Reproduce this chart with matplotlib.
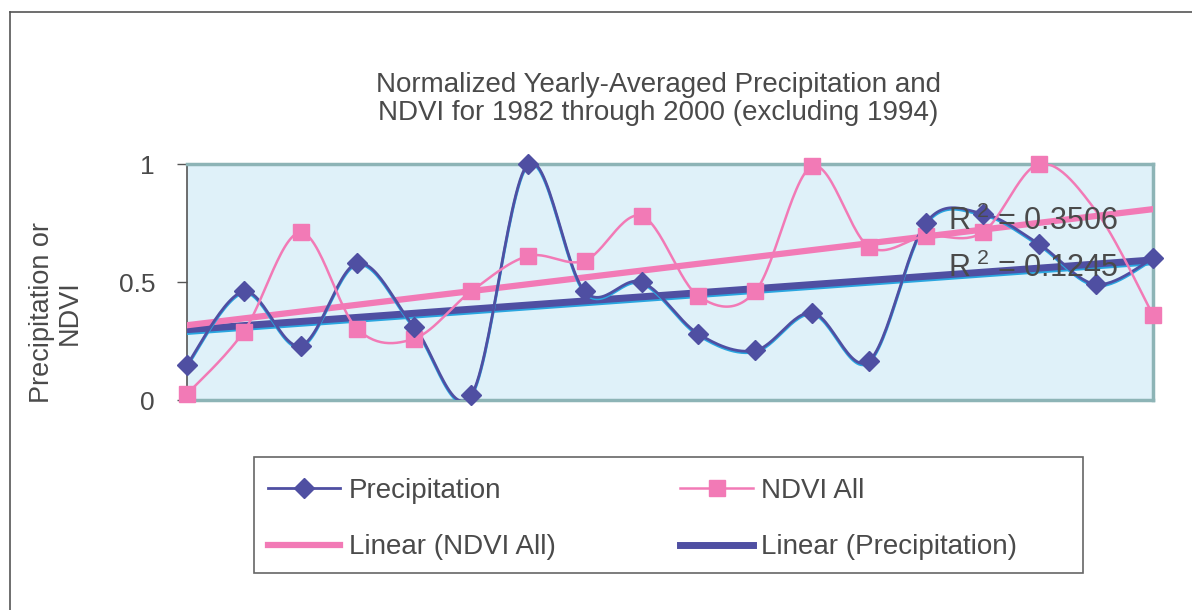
import numpy as np
import matplotlib
matplotlib.use("Agg")
import matplotlib.pyplot as plt
from matplotlib.lines import Line2D
from matplotlib.patches import Rectangle
import matplotlib.transforms as mtransforms

# Datos (1982 a 2000 sin 1994)
anios = [1982, 1983, 1984, 1985, 1986, 1987, 1988, 1989, 1990,
         1991, 1992, 1993, 1995, 1996, 1997, 1998, 1999, 2000]
precipitacion = [0.15, 0.46, 0.23, 0.58, 0.31, 0.02, 1.0, 0.46, 0.50,
                 0.28, 0.21, 0.37, 0.165, 0.75, 0.79, 0.66, 0.49, 0.60]
ndvi = [0.025, 0.29, 0.71, 0.30, 0.26, 0.46, 0.61, 0.59, 0.78,
        0.44, 0.46, 0.99, 0.65, 0.695, 0.71, 1.0, 0.80, 0.36]
r2_ndvi = "0.3506"
r2_prec = "0.1245"

plt.rcParams['font.family'] = ['Liberation Sans', 'DejaVu Sans']
plt.rcParams['mathtext.fontset'] = 'custom'
plt.rcParams['mathtext.rm'] = 'Liberation Sans'
plt.rcParams['mathtext.it'] = 'Liberation Sans'

azul = '#4f4fa2'
cian = '#2aa6e0'
rosa = '#f27ab6'
gris = '#4a4a4a'


# Curva suavizada tipo Excel (bezier con tangentes de Catmull-Rom)
def suave(y, n=30):
    x = np.arange(len(y), dtype=float)
    y = np.asarray(y, dtype=float)
    px = np.concatenate([[x[0]], x, [x[-1]]])
    py = np.concatenate([[y[0]], y, [y[-1]]])
    xs, ys = [], []
    t = np.linspace(0, 1, n)
    for i in range(len(x) - 1):
        p0 = np.array([px[i], py[i]])
        p1 = np.array([px[i + 1], py[i + 1]])
        p2 = np.array([px[i + 2], py[i + 2]])
        p3 = np.array([px[i + 3], py[i + 3]])
        c1 = p1 + (p2 - p0) / 6
        c2 = p2 - (p3 - p1) / 6
        for k in range(2):
            b = ((1 - t) ** 3 * p1[k] + 3 * (1 - t) ** 2 * t * c1[k]
                 + 3 * (1 - t) * t ** 2 * c2[k] + t ** 3 * p2[k])
            (xs if k == 0 else ys).append(b)
    return np.concatenate(xs), np.concatenate(ys)


fig = plt.figure(figsize=(11.92, 6.10), dpi=100)
ax = fig.add_axes([187 / 1192, 1 - 400 / 610, (1153 - 187) / 1192, 236 / 610])
ax.set_facecolor('#dff1f9')

x = np.arange(len(anios))

# sombra cian desplazada hacia abajo (como en la impresion)
sombra = mtransforms.offset_copy(ax.transData, fig=fig, x=0, y=-1.5, units='dots')

# lineas de tendencia
m_n, b_n = np.polyfit(x, ndvi, 1)
m_p, b_p = np.polyfit(x, precipitacion, 1)
ax.plot(x, b_p + m_p * x, color=cian, lw=5.5, transform=sombra, zorder=3)
ax.plot(x, b_p + m_p * x, color=azul, lw=5, zorder=3)
ax.plot(x, b_n + m_n * x, color=rosa, lw=4.5, zorder=3)

# series suavizadas
xs, ys = suave(precipitacion)
ax.plot(xs, ys, color=cian, lw=2, transform=sombra, zorder=4)
ax.plot(xs, ys, color=azul, lw=2, zorder=4)
ax.plot(x, precipitacion, ls='none', marker='D', ms=10, color=azul, zorder=6,
        clip_on=False)

xs, ys = suave(ndvi)
ax.plot(xs, ys, color=rosa, lw=1.8, zorder=5)
marcas = [i for i in range(len(ndvi)) if i != 16]
ax.plot(x, ndvi, ls='none', marker='s', ms=11.5, color=rosa, zorder=5,
        markevery=marcas, clip_on=False)

ax.set_xlim(0, len(anios) - 1)
ax.set_ylim(0, 1)
ax.set_xticks([])
ax.set_yticks([0, 0.5, 1])
ax.set_yticklabels(['0', '0.5', '1'])
ax.tick_params(axis='y', direction='out', length=7, width=1, color='#555555',
               labelsize=19, labelcolor=gris, pad=16)
for lado in ['top', 'right', 'bottom']:
    ax.spines[lado].set_color('#8db4b6')
    ax.spines[lado].set_linewidth(2.5)
ax.spines['left'].set_color('#555555')
ax.spines['left'].set_linewidth(1.2)

# textos de R cuadrado
ax.text(0.788, 0.72, r"R$^{\ 2}$ = " + r2_ndvi, transform=ax.transAxes,
        fontsize=22, color=gris, va='baseline', zorder=7)
ax.text(0.788, 0.52, r"R$^{\ 2}$ = " + r2_prec, transform=ax.transAxes,
        fontsize=22, color=gris, va='baseline', zorder=7)

ax.set_ylabel("Precipitation or\nNDVI", fontsize=19.5, color=gris,
              linespacing=1.1)
ax.yaxis.set_label_coords(-0.108, 0.37)

fig.text(658 / 1192, 1 - 99 / 610,
         "Normalized Yearly-Averaged Precipitation and\nNDVI for 1982 through 2000 (excluding 1994)",
         ha='center', va='center', fontsize=20, color=gris, linespacing=1.1)

# marco exterior
fig.add_artist(Line2D([10 / 1192, 10 / 1192], [0, 1 - 12 / 610], color='#555555', lw=1.2))
fig.add_artist(Line2D([10 / 1192, 1], [1 - 12 / 610, 1 - 12 / 610], color='#555555', lw=1.2))

# caja de la leyenda
fig.add_artist(Rectangle((254 / 1192, 1 - 573 / 610), (1083 - 254) / 1192, 116 / 610,
                         transform=fig.transFigure, fill=False, edgecolor='#666666', lw=1.2))

h_prec = Line2D([], [], color=azul, lw=2, marker='D', ms=10)
h_ndvi = Line2D([], [], color=rosa, lw=1.8, marker='s', ms=11.5)
h_tn = Line2D([], [], color=rosa, lw=4.5)
h_tp = Line2D([], [], color=azul, lw=5)
fig.legend([h_prec, h_tn, h_ndvi, h_tp],
           ["Precipitation", "Linear (NDVI All)", "NDVI All", "Linear (Precipitation)"],
           ncol=2, loc='center left', bbox_to_anchor=(268 / 1192, 1 - 519 / 610),
           borderpad=0, borderaxespad=0, frameon=False, fontsize=20,
           handlelength=2.6, handletextpad=0.3, columnspacing=4.5,
           labelspacing=1.1, labelcolor=gris)

fig.savefig("out.png", dpi=100)
